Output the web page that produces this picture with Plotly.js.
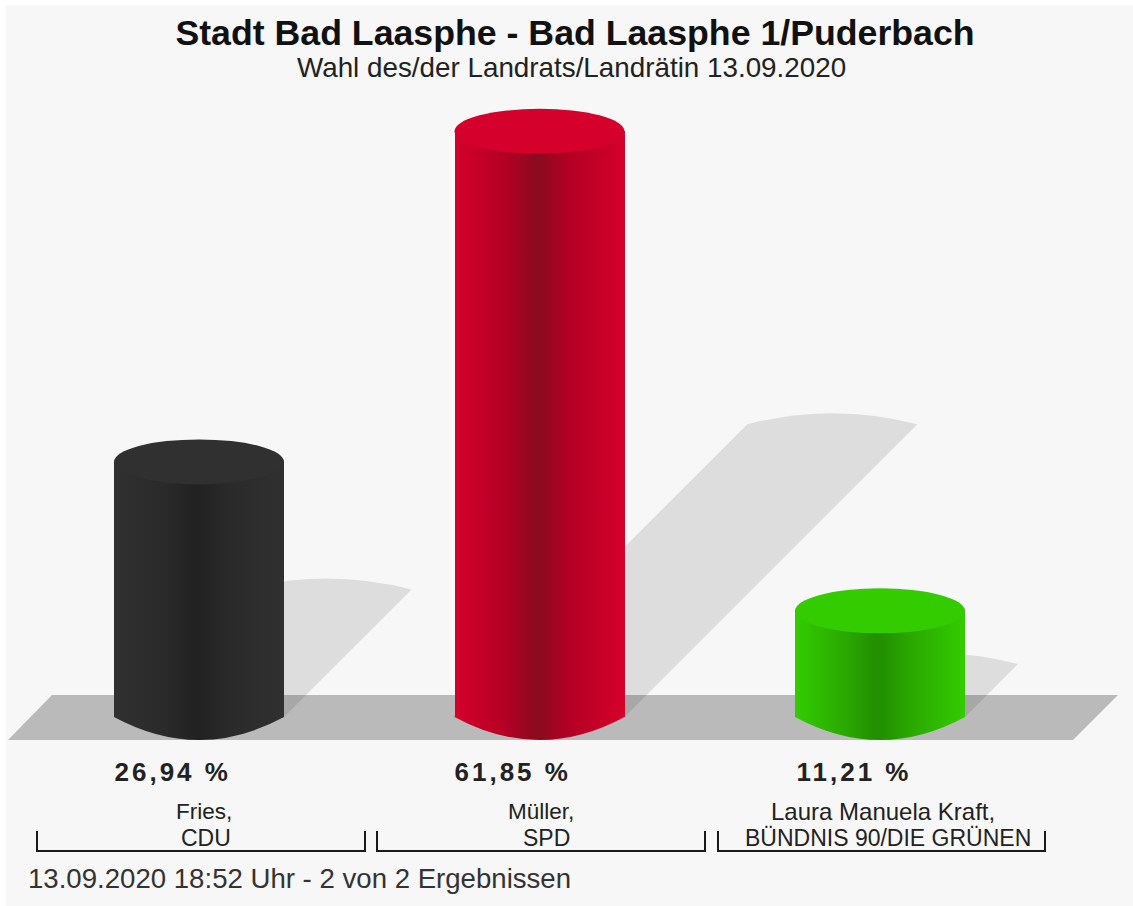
<!DOCTYPE html>
<html>
<head>
<meta charset="utf-8">
<script src="https://cdn.plot.ly/plotly-3.0.1.min.js"></script>
<style>
html,body{margin:0;padding:0;background:#fff;overflow:hidden}
#chart{width:1133px;height:906px}
.annotation[data-index="1"] text,.annotation[data-index="2"] text,.annotation[data-index="3"] text{letter-spacing:3px}
</style>
</head>
<body>
<div id="chart"></div>
<script>
const titleText = "Stadt Bad Laasphe - Bad Laasphe 1/Puderbach";
const subtitleText = "Wahl des/der Landrats/Landrätin 13.09.2020";
const footerText = "13.09.2020 18:52 Uhr - 2 von 2 Ergebnissen";
const positions = [0, 1, 2];
const values = [26.94, 61.85, 11.21];
const valueLabels = ["26,94 %", "61,85 %", "11,21 %"];
const nameLines = ["Fries,", "Müller,", "Laura Manuela Kraft,"];
const partyLines = ["CDU", "SPD", "BÜNDNIS 90/DIE GRÜNEN"];
const capColors = ["#303030", "#d5002b", "#33cc00"];
const midColors = ["#2a2a2a", "#b40024", "#2aa800"];
const darkColors = ["#222222", "#8e0a1e", "#229000"];

const W = 1133, H = 906;
const pxPerUnit = 9.47, zeroPx = 717, x0Px = 199, stepPx = 340.5, barPx = 170;
const barW = barPx / stepPx;
const pxX = p => (p - x0Px) / stepPx;
const dX = p => p / stepPx;
const dY = p => p / pxPerUnit;
const paperY = p => 1 - p / H;
const paperX = p => p / W;

const shapes = [];
shapes.push({type:"rect", xref:"paper", yref:"paper", x0:paperX(6), x1:1, y0:0, y1:paperY(5),
  fillcolor:"#f7f7f7", line:{width:0}, layer:"below"});
shapes.push({type:"path", xref:"paper", yref:"paper", layer:"below", fillcolor:"#bababa", line:{width:0},
  path:`M ${paperX(8)},${paperY(740)} L ${paperX(52)},${paperY(695)} L ${paperX(1118)},${paperY(695)} L ${paperX(1073)},${paperY(740)} Z`});

positions.forEach((c, i) => {
  const h = values[i], l = c - barW / 2, r = c + barW / 2;
  const off = h / 2 * pxPerUnit;
  const ox = dX(off), oy = h / 2, bulge = dY(22);
  shapes.push({type:"path", layer:"below", fillcolor:"rgba(0,0,0,0.1)", line:{width:0},
    path:`M ${l},0 L ${l + ox},${oy} Q ${c + ox},${oy + bulge} ${r + ox},${oy} L ${r},0 Z`});
});
const baseIdx = [];
positions.forEach((c, i) => {
  const l = c - barW / 2, r = c + barW / 2;
  baseIdx.push(shapes.length);
  shapes.push({type:"path", layer:"below", fillcolor:capColors[i], line:{width:0},
    path:`M ${l},0.05 L ${l},0 Q ${c},${-dY(46)} ${r},0 L ${r},0.05 Z`});
});
positions.forEach((c, i) => {
  const l = c - barW / 2, r = c + barW / 2;
  shapes.push({type:"circle", layer:"above", fillcolor:capColors[i], line:{width:0},
    x0:l, x1:r, y0:values[i] - dY(22.5), y1:values[i] + dY(22.5)});
});
const bracketPx = [[37,365],[377,705],[718,1045]];
bracketPx.forEach(b => {
  shapes.push({type:"path", xref:"paper", yref:"paper", layer:"above", line:{color:"#1a1a1a", width:2},
    path:`M ${paperX(b[0])},${paperY(831)} L ${paperX(b[0])},${paperY(851)} L ${paperX(b[1])},${paperY(851)} L ${paperX(b[1])},${paperY(831)}`});
});

const FONT = "Liberation Sans, Arial, sans-serif";
const txt = (text, xpx, ypx, size, weight, color, anchor) => ({
  text, xref:"paper", yref:"paper", x:paperX(xpx), y:paperY(ypx), showarrow:false,
  xanchor:anchor || "center", yanchor:"middle", font:{family:FONT, size, color:color || "#222", weight:weight || 400}
});
const annotations = [txt(subtitleText, 571, 68, 27.8, 400, "#222")];
const valueCenters = [172, 512, 854];
valueLabels.forEach((s, i) => annotations.push(txt(s, valueCenters[i], 772, 26, 700, "#222")));
const nameCenters = [204, 541, 883], partyCenters = [206, 546, 888];
const nameSizes = [22.5, 22.5, 24];
nameLines.forEach((s, i) => annotations.push(txt(s, nameCenters[i], 811, nameSizes[i], 400, "#222")));
partyLines.forEach((s, i) => annotations.push(txt(s, partyCenters[i], 838, 23, 400, "#222")));
annotations.push(txt(footerText, 26, 878, 27.6, 400, "#333", "left"));

const trace = {type:"bar", x:positions, y:values, width:barW, marker:{color:capColors, line:{width:0}},
  hoverinfo:"skip", showlegend:false};

const layout = {
  width:W, height:H, margin:{l:0,r:0,t:0,b:0,pad:0}, paper_bgcolor:"#ffffff", plot_bgcolor:"rgba(0,0,0,0)",
  showlegend:false, bargap:0,
  title:{text:titleText, x:575/W, xanchor:"center", xref:"paper", y:paperY(33), yref:"container", yanchor:"middle",
    font:{family:FONT, size:35.7, weight:700, color:"#111"}},
  xaxis:{visible:false, range:[pxX(0), pxX(W)], fixedrange:true},
  yaxis:{visible:false, range:[(zeroPx - H) / pxPerUnit, zeroPx / pxPerUnit], fixedrange:true},
  shapes, annotations
};

function paintGradients(gd){
  const svg = gd.querySelector("svg.main-svg");
  let defs = svg.querySelector("defs#cyl-defs");
  if(!defs){
    defs = document.createElementNS("http://www.w3.org/2000/svg","defs");
    defs.id = "cyl-defs";
    svg.insertBefore(defs, svg.firstChild);
    positions.forEach((c,i)=>{
      const g = document.createElementNS("http://www.w3.org/2000/svg","linearGradient");
      g.id = "cyl"+i; g.setAttribute("x1","0"); g.setAttribute("x2","1"); g.setAttribute("y1","0"); g.setAttribute("y2","0");
      [[0,capColors[i]],[0.3,midColors[i]],[0.47,darkColors[i]],[0.51,darkColors[i]],[0.68,midColors[i]],[1,capColors[i]]].forEach(s=>{
        const st = document.createElementNS("http://www.w3.org/2000/svg","stop");
        st.setAttribute("offset",s[0]); st.setAttribute("stop-color",s[1]);
        g.appendChild(st);
      });
      defs.appendChild(g);
    });
  }
  gd.querySelectorAll(".barlayer .point path").forEach((p,i)=>{ p.style.fill = `url(#cyl${i})`; });
  baseIdx.forEach((idx,i)=>{
    const p = gd.querySelector(`.shapelayer path[data-index="${idx}"]`);
    if(p) p.style.fill = `url(#cyl${i})`;
  });
}
Plotly.newPlot("chart",[trace],layout,{displayModeBar:false,staticPlot:true}).then(gd=>{
  paintGradients(gd);
  gd.on("plotly_afterplot",()=>paintGradients(gd));
});
</script>
</body>
</html>
